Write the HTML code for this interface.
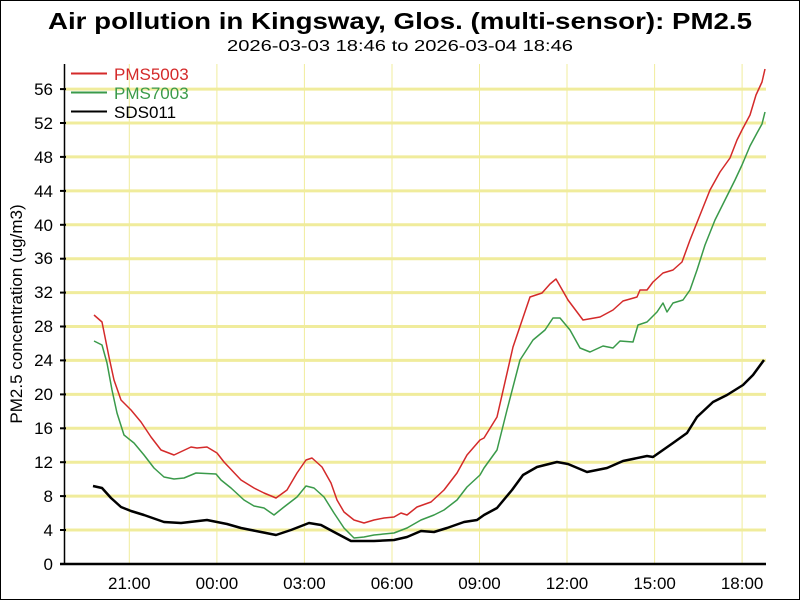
<!DOCTYPE html>
<html><head><meta charset="utf-8"><style>html,body{margin:0;padding:0;background:#fff}svg{display:block}</style></head><body>
<svg width="800" height="600" xmlns="http://www.w3.org/2000/svg" font-family="Liberation Sans, Arial, sans-serif">
<rect x="0.5" y="0.5" width="799" height="599" fill="#fff" stroke="#000"/>
<text x="400" y="29" text-anchor="middle" font-size="23" font-weight="bold" textLength="704" lengthAdjust="spacingAndGlyphs">Air pollution in Kingsway, Glos. (multi-sensor): PM2.5</text>
<text x="400" y="51" text-anchor="middle" font-size="16" textLength="346" lengthAdjust="spacingAndGlyphs">2026-03-03 18:46 to 2026-03-04 18:46</text>
<g stroke="#f0ec9c" stroke-width="1">
<line x1="129.3" y1="64" x2="129.3" y2="564"/><line x1="216.9" y1="64" x2="216.9" y2="564"/><line x1="304.4" y1="64" x2="304.4" y2="564"/><line x1="392" y1="64" x2="392" y2="564"/><line x1="479.5" y1="64" x2="479.5" y2="564"/><line x1="567" y1="64" x2="567" y2="564"/><line x1="654.6" y1="64" x2="654.6" y2="564"/><line x1="742.1" y1="64" x2="742.1" y2="564"/>
</g>
<g stroke="#f0ec9c" stroke-width="3">
<line x1="64" y1="530" x2="766" y2="530"/><line x1="64" y1="496.1" x2="766" y2="496.1"/><line x1="64" y1="462.2" x2="766" y2="462.2"/><line x1="64" y1="428.3" x2="766" y2="428.3"/><line x1="64" y1="394.4" x2="766" y2="394.4"/><line x1="64" y1="360.4" x2="766" y2="360.4"/><line x1="64" y1="326.5" x2="766" y2="326.5"/><line x1="64" y1="292.6" x2="766" y2="292.6"/><line x1="64" y1="258.7" x2="766" y2="258.7"/><line x1="64" y1="224.8" x2="766" y2="224.8"/><line x1="64" y1="190.9" x2="766" y2="190.9"/><line x1="64" y1="156.9" x2="766" y2="156.9"/><line x1="64" y1="123" x2="766" y2="123"/><line x1="64" y1="89.1" x2="766" y2="89.1"/>
</g>
<line x1="64.5" y1="64" x2="64.5" y2="565" stroke="#000" stroke-width="1.5"/>
<line x1="60" y1="564" x2="766" y2="564" stroke="#000" stroke-width="2.5"/>
<g stroke="#000" stroke-width="2">
<line x1="60" y1="530" x2="66" y2="530"/><line x1="60" y1="496.1" x2="66" y2="496.1"/><line x1="60" y1="462.2" x2="66" y2="462.2"/><line x1="60" y1="428.3" x2="66" y2="428.3"/><line x1="60" y1="394.4" x2="66" y2="394.4"/><line x1="60" y1="360.4" x2="66" y2="360.4"/><line x1="60" y1="326.5" x2="66" y2="326.5"/><line x1="60" y1="292.6" x2="66" y2="292.6"/><line x1="60" y1="258.7" x2="66" y2="258.7"/><line x1="60" y1="224.8" x2="66" y2="224.8"/><line x1="60" y1="190.9" x2="66" y2="190.9"/><line x1="60" y1="156.9" x2="66" y2="156.9"/><line x1="60" y1="123" x2="66" y2="123"/><line x1="60" y1="89.1" x2="66" y2="89.1"/>
</g>
<g font-size="17" text-anchor="end">
<text x="53" y="570">0</text><text x="53" y="536">4</text><text x="53" y="502">8</text><text x="53" y="468">12</text><text x="53" y="434">16</text><text x="53" y="400">20</text><text x="53" y="366">24</text><text x="53" y="332">28</text><text x="53" y="298">32</text><text x="53" y="264">36</text><text x="53" y="231">40</text><text x="53" y="197">44</text><text x="53" y="163">48</text><text x="53" y="129">52</text><text x="53" y="95">56</text>
</g>
<g font-size="17" text-anchor="middle">
<text x="129.3" y="589">21:00</text><text x="216.9" y="589">00:00</text><text x="304.4" y="589">03:00</text><text x="392" y="589">06:00</text><text x="479.5" y="589">09:00</text><text x="567" y="589">12:00</text><text x="654.6" y="589">15:00</text><text x="742.1" y="589">18:00</text>
</g>
<text transform="translate(22,314) rotate(-90)" text-anchor="middle" font-size="17">PM2.5 concentration (ug/m3)</text>
<g fill="none" stroke-linejoin="round">
<polyline stroke="#000" stroke-width="2.5" points="93,486 102,488 111,498 121,507 131,511 144,515 164,522 181,523 207,520 227,524 241,528 261,532 276,535 291,530 309,523 321,525 334,532 351,541 374,541 394,540 407,537 421,531 434,532 447,528 464,522 477,520 484,515 497,508 512,490 523,475 537,467 557,462 568,464 587,472 607,468 623,461 647,456 653,457 673,443 687,433 697,417 713,402 727,395 743,385 753,375 764,360"/>
<polyline stroke="#3a9a4a" stroke-width="1.5" points="94,341 102,345 107,363 112,390 117,413 124,435 134,443 144,455 154,468 164,477 174,479 184,478 196,473 216,474 221,480 231,488 244,500 254,506 264,508 274,515 284,507 297,497 306,486 314,488 324,497 334,513 344,528 354,538 364,537 374,535 394,533 407,528 421,520 434,515 444,510 457,500 467,487 480,475 484,468 497,450 507,410 520,360 533,340 545,330 553,318 560,318 570,330 580,348 590,352 603,346 613,348 620,341 633,342 638,325 647,322 657,312 663,303 667,312 673,303 683,300 690,290 697,270 705,245 715,220 725,200 735,180 742,165 750,146 757,133 762,124 765,112"/>
<polyline stroke="#d42a2a" stroke-width="1.5" points="94,315 102,322 109,357 114,380 121,400 131,410 141,422 151,437 161,450 174,455 191,447 197,448 207,447 217,453 224,462 241,480 254,488 264,493 276,498 287,490 297,473 306,460 312,458 322,467 331,483 337,500 344,512 354,520 364,523 374,520 384,518 394,517 401,513 407,515 417,507 431,502 444,490 457,473 467,455 480,440 484,438 497,417 513,347 530,297 542,293 550,284 556,279 568,300 583,320 600,317 613,310 623,301 637,297 640,290 647,290 653,282 663,273 673,270 682,262 690,240 700,215 710,190 720,172 730,158 737,140 742,130 750,115 756,95 762,82 765,69"/>
</g>
<g font-size="17">
<line x1="71" y1="73.5" x2="107" y2="73.5" stroke="#d42a2a" stroke-width="2"/><text x="114" y="80" fill="#d42a2a">PMS5003</text>
<line x1="71" y1="92.5" x2="107" y2="92.5" stroke="#3a9a4a" stroke-width="2"/><text x="114" y="99" fill="#3a9a4a">PMS7003</text>
<line x1="71" y1="111.5" x2="107" y2="111.5" stroke="#000" stroke-width="2"/><text x="114" y="118" fill="#000">SDS011</text>
</g>
</svg>
</body></html>
